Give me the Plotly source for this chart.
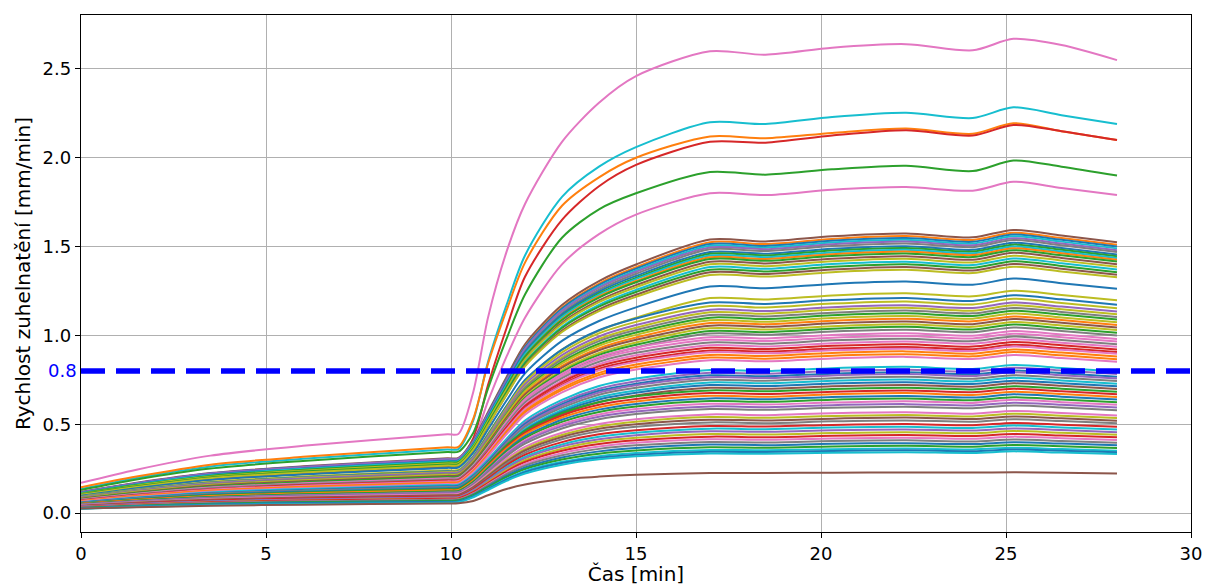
import plotly.graph_objects as go

# ---------------- data ----------------
time_min = [0, 1.5, 3.5, 6, 9.9, 10.2, 10.6, 11, 11.5, 12, 13, 14, 15, 17, 18.5, 20.3, 22.3, 24.1, 25.2, 26.5, 28]

curve_01 = [0.170, 0.244, 0.323, 0.378, 0.443, 0.445, 0.680, 1.100, 1.470, 1.740, 2.090, 2.310, 2.460, 2.600, 2.580, 2.620, 2.640, 2.605, 2.670, 2.635, 2.550]
curve_02 = [0.135, 0.197, 0.262, 0.305, 0.358, 0.360, 0.520, 0.850, 1.170, 1.450, 1.780, 1.950, 2.060, 2.200, 2.190, 2.230, 2.254, 2.224, 2.284, 2.240, 2.190]
curve_03 = [0.145, 0.205, 0.272, 0.316, 0.370, 0.372, 0.530, 0.840, 1.140, 1.410, 1.730, 1.890, 2.000, 2.120, 2.110, 2.140, 2.165, 2.135, 2.195, 2.150, 2.100]
curve_04 = [0.115, 0.164, 0.218, 0.255, 0.298, 0.300, 0.420, 0.720, 1.040, 1.330, 1.650, 1.840, 1.960, 2.090, 2.085, 2.125, 2.155, 2.125, 2.185, 2.150, 2.100]
curve_05 = [0.130, 0.189, 0.251, 0.293, 0.343, 0.345, 0.450, 0.700, 0.980, 1.230, 1.550, 1.710, 1.800, 1.920, 1.905, 1.935, 1.955, 1.925, 1.985, 1.950, 1.900]
curve_06 = [0.110, 0.156, 0.207, 0.242, 0.283, 0.285, 0.400, 0.630, 0.880, 1.100, 1.400, 1.570, 1.680, 1.800, 1.790, 1.820, 1.835, 1.815, 1.865, 1.830, 1.790]
curve_07 = [0.118, 0.170, 0.225, 0.263, 0.308, 0.310, 0.408, 0.568, 0.765, 0.950, 1.171, 1.306, 1.399, 1.540, 1.529, 1.558, 1.574, 1.552, 1.594, 1.563, 1.525]
curve_08 = [0.113, 0.163, 0.217, 0.253, 0.296, 0.298, 0.396, 0.556, 0.752, 0.936, 1.157, 1.292, 1.384, 1.525, 1.514, 1.543, 1.559, 1.537, 1.578, 1.548, 1.510]
curve_09 = [0.116, 0.167, 0.222, 0.259, 0.303, 0.305, 0.402, 0.559, 0.753, 0.934, 1.152, 1.285, 1.376, 1.515, 1.504, 1.533, 1.548, 1.527, 1.568, 1.538, 1.500]
curve_10 = [0.111, 0.160, 0.212, 0.248, 0.290, 0.292, 0.389, 0.547, 0.741, 0.923, 1.141, 1.275, 1.366, 1.505, 1.494, 1.523, 1.538, 1.517, 1.558, 1.528, 1.490]
curve_11 = [0.116, 0.167, 0.222, 0.259, 0.304, 0.306, 0.401, 0.556, 0.746, 0.924, 1.138, 1.269, 1.358, 1.495, 1.485, 1.513, 1.528, 1.507, 1.547, 1.517, 1.480]
curve_12 = [0.108, 0.156, 0.207, 0.242, 0.283, 0.285, 0.381, 0.537, 0.729, 0.909, 1.125, 1.257, 1.347, 1.485, 1.475, 1.503, 1.518, 1.497, 1.537, 1.507, 1.470]
curve_13 = [0.112, 0.162, 0.215, 0.251, 0.294, 0.296, 0.390, 0.543, 0.730, 0.906, 1.118, 1.247, 1.335, 1.470, 1.460, 1.488, 1.502, 1.482, 1.521, 1.492, 1.455]
curve_14 = [0.106, 0.153, 0.204, 0.237, 0.278, 0.280, 0.374, 0.528, 0.717, 0.894, 1.106, 1.236, 1.324, 1.460, 1.450, 1.478, 1.492, 1.472, 1.511, 1.482, 1.445]
curve_15 = [0.111, 0.160, 0.212, 0.248, 0.290, 0.292, 0.385, 0.535, 0.720, 0.894, 1.103, 1.230, 1.317, 1.450, 1.440, 1.467, 1.482, 1.462, 1.501, 1.472, 1.436]
curve_16 = [0.105, 0.150, 0.200, 0.233, 0.273, 0.275, 0.368, 0.520, 0.706, 0.881, 1.091, 1.219, 1.306, 1.440, 1.430, 1.457, 1.472, 1.452, 1.490, 1.462, 1.426]
curve_17 = [0.109, 0.157, 0.209, 0.243, 0.285, 0.287, 0.378, 0.527, 0.710, 0.881, 1.087, 1.213, 1.299, 1.430, 1.420, 1.447, 1.461, 1.441, 1.480, 1.451, 1.416]
curve_18 = [0.103, 0.148, 0.196, 0.229, 0.268, 0.270, 0.362, 0.510, 0.694, 0.865, 1.072, 1.197, 1.283, 1.415, 1.405, 1.432, 1.446, 1.426, 1.465, 1.436, 1.401]
curve_19 = [0.107, 0.154, 0.204, 0.238, 0.279, 0.281, 0.371, 0.516, 0.695, 0.863, 1.064, 1.187, 1.271, 1.400, 1.390, 1.417, 1.431, 1.411, 1.449, 1.421, 1.386]
curve_20 = [0.101, 0.146, 0.193, 0.226, 0.264, 0.266, 0.356, 0.501, 0.680, 0.848, 1.049, 1.172, 1.256, 1.385, 1.375, 1.402, 1.415, 1.396, 1.433, 1.406, 1.371]
curve_21 = [0.105, 0.150, 0.200, 0.233, 0.273, 0.275, 0.363, 0.505, 0.680, 0.844, 1.042, 1.162, 1.244, 1.370, 1.360, 1.386, 1.400, 1.381, 1.418, 1.391, 1.356]
curve_22 = [0.100, 0.143, 0.190, 0.222, 0.260, 0.262, 0.349, 0.492, 0.666, 0.830, 1.027, 1.147, 1.229, 1.355, 1.346, 1.371, 1.385, 1.366, 1.402, 1.375, 1.341]
curve_23 = [0.102, 0.147, 0.196, 0.228, 0.267, 0.269, 0.355, 0.494, 0.665, 0.826, 1.019, 1.137, 1.217, 1.340, 1.331, 1.356, 1.369, 1.351, 1.387, 1.360, 1.327]
curve_24 = [0.097, 0.140, 0.186, 0.217, 0.254, 0.256, 0.338, 0.470, 0.633, 0.786, 0.969, 1.081, 1.158, 1.275, 1.266, 1.290, 1.303, 1.285, 1.320, 1.294, 1.262]
curve_25 = [0.092, 0.132, 0.176, 0.205, 0.240, 0.242, 0.319, 0.445, 0.600, 0.745, 0.920, 1.026, 1.099, 1.210, 1.202, 1.225, 1.237, 1.220, 1.252, 1.228, 1.198]
curve_26 = [0.090, 0.130, 0.172, 0.201, 0.235, 0.237, 0.318, 0.441, 0.602, 0.749, 0.920, 1.029, 1.095, 1.185, 1.177, 1.199, 1.211, 1.194, 1.226, 1.203, 1.173]
curve_27 = [0.089, 0.127, 0.169, 0.198, 0.231, 0.233, 0.312, 0.433, 0.592, 0.736, 0.904, 1.011, 1.076, 1.165, 1.157, 1.179, 1.191, 1.174, 1.206, 1.182, 1.153]
curve_28 = [0.087, 0.125, 0.166, 0.194, 0.227, 0.229, 0.307, 0.426, 0.582, 0.724, 0.889, 0.994, 1.058, 1.145, 1.137, 1.159, 1.170, 1.154, 1.185, 1.162, 1.134]
curve_29 = [0.083, 0.119, 0.158, 0.185, 0.216, 0.218, 0.296, 0.414, 0.569, 0.710, 0.875, 0.980, 1.043, 1.130, 1.122, 1.144, 1.155, 1.139, 1.170, 1.147, 1.119]
curve_30 = [0.085, 0.122, 0.162, 0.189, 0.221, 0.223, 0.299, 0.415, 0.566, 0.705, 0.865, 0.968, 1.030, 1.115, 1.107, 1.128, 1.140, 1.124, 1.154, 1.132, 1.104]
curve_31 = [0.081, 0.116, 0.154, 0.180, 0.210, 0.212, 0.287, 0.403, 0.554, 0.692, 0.851, 0.953, 1.016, 1.100, 1.092, 1.113, 1.124, 1.109, 1.139, 1.117, 1.089]
curve_32 = [0.082, 0.119, 0.158, 0.184, 0.215, 0.217, 0.291, 0.404, 0.551, 0.686, 0.842, 0.942, 1.003, 1.085, 1.077, 1.098, 1.109, 1.094, 1.123, 1.101, 1.074]
curve_33 = [0.078, 0.113, 0.150, 0.175, 0.204, 0.206, 0.279, 0.392, 0.539, 0.673, 0.828, 0.927, 0.988, 1.070, 1.063, 1.083, 1.094, 1.079, 1.107, 1.086, 1.059]
curve_34 = [0.080, 0.115, 0.153, 0.179, 0.209, 0.211, 0.283, 0.392, 0.536, 0.667, 0.819, 0.916, 0.975, 1.055, 1.048, 1.068, 1.078, 1.063, 1.092, 1.071, 1.044]
curve_35 = [0.076, 0.109, 0.145, 0.170, 0.198, 0.200, 0.271, 0.381, 0.523, 0.654, 0.805, 0.901, 0.960, 1.040, 1.033, 1.052, 1.063, 1.048, 1.076, 1.056, 1.030]
curve_36 = [0.078, 0.112, 0.148, 0.173, 0.202, 0.204, 0.274, 0.381, 0.520, 0.647, 0.795, 0.890, 0.947, 1.025, 1.018, 1.037, 1.048, 1.033, 1.061, 1.040, 1.015]
curve_37 = [0.074, 0.106, 0.141, 0.165, 0.192, 0.194, 0.263, 0.369, 0.508, 0.635, 0.782, 0.875, 0.932, 1.010, 1.003, 1.022, 1.032, 1.018, 1.045, 1.025, 1.000]
curve_38 = [0.075, 0.108, 0.143, 0.167, 0.195, 0.197, 0.268, 0.371, 0.514, 0.641, 0.784, 0.879, 0.931, 0.990, 0.983, 1.002, 1.012, 0.998, 1.025, 1.005, 0.980]
curve_39 = [0.071, 0.102, 0.135, 0.158, 0.184, 0.186, 0.257, 0.360, 0.502, 0.628, 0.770, 0.865, 0.916, 0.975, 0.968, 0.987, 0.996, 0.983, 1.009, 0.990, 0.965]
curve_40 = [0.073, 0.104, 0.139, 0.162, 0.189, 0.191, 0.260, 0.360, 0.499, 0.622, 0.760, 0.852, 0.902, 0.960, 0.953, 0.972, 0.981, 0.968, 0.994, 0.974, 0.950]
curve_41 = [0.069, 0.099, 0.132, 0.153, 0.179, 0.181, 0.250, 0.349, 0.487, 0.609, 0.746, 0.838, 0.888, 0.945, 0.938, 0.956, 0.966, 0.953, 0.978, 0.959, 0.936]
curve_42 = [0.070, 0.101, 0.134, 0.157, 0.183, 0.185, 0.252, 0.349, 0.483, 0.602, 0.736, 0.826, 0.874, 0.930, 0.923, 0.941, 0.950, 0.937, 0.963, 0.944, 0.921]
curve_43 = [0.067, 0.096, 0.128, 0.149, 0.174, 0.176, 0.243, 0.339, 0.472, 0.590, 0.723, 0.812, 0.860, 0.915, 0.909, 0.926, 0.935, 0.922, 0.947, 0.929, 0.906]
curve_44 = [0.068, 0.098, 0.131, 0.153, 0.178, 0.180, 0.245, 0.340, 0.470, 0.586, 0.717, 0.804, 0.851, 0.905, 0.899, 0.916, 0.925, 0.912, 0.937, 0.919, 0.896]
curve_45 = [0.065, 0.093, 0.124, 0.144, 0.168, 0.170, 0.235, 0.328, 0.458, 0.573, 0.703, 0.789, 0.836, 0.890, 0.884, 0.901, 0.910, 0.897, 0.921, 0.903, 0.881]
curve_46 = [0.066, 0.095, 0.126, 0.148, 0.172, 0.174, 0.237, 0.328, 0.454, 0.567, 0.693, 0.777, 0.822, 0.875, 0.869, 0.886, 0.894, 0.882, 0.906, 0.888, 0.866]
curve_47 = [0.063, 0.090, 0.120, 0.140, 0.163, 0.165, 0.228, 0.318, 0.443, 0.554, 0.679, 0.763, 0.808, 0.860, 0.854, 0.870, 0.879, 0.867, 0.890, 0.873, 0.851]
curve_48 = [0.060, 0.087, 0.116, 0.135, 0.157, 0.159, 0.217, 0.301, 0.417, 0.521, 0.637, 0.715, 0.757, 0.805, 0.799, 0.815, 0.823, 0.811, 0.833, 0.817, 0.797]
curve_49 = [0.057, 0.082, 0.109, 0.127, 0.148, 0.150, 0.208, 0.291, 0.406, 0.508, 0.624, 0.700, 0.742, 0.790, 0.784, 0.799, 0.807, 0.796, 0.818, 0.802, 0.782]
curve_50 = [0.058, 0.084, 0.111, 0.130, 0.151, 0.153, 0.209, 0.290, 0.402, 0.501, 0.613, 0.688, 0.728, 0.775, 0.770, 0.784, 0.792, 0.781, 0.802, 0.787, 0.767]
curve_51 = [0.055, 0.080, 0.106, 0.124, 0.144, 0.146, 0.202, 0.282, 0.394, 0.493, 0.604, 0.678, 0.719, 0.765, 0.760, 0.774, 0.782, 0.771, 0.792, 0.776, 0.757]
curve_52 = [0.056, 0.081, 0.108, 0.126, 0.146, 0.148, 0.202, 0.280, 0.389, 0.485, 0.593, 0.666, 0.705, 0.750, 0.745, 0.759, 0.767, 0.756, 0.776, 0.761, 0.743]
curve_53 = [0.053, 0.077, 0.102, 0.119, 0.138, 0.140, 0.194, 0.271, 0.378, 0.473, 0.580, 0.652, 0.690, 0.735, 0.730, 0.744, 0.751, 0.741, 0.761, 0.746, 0.728]
curve_54 = [0.054, 0.078, 0.103, 0.120, 0.140, 0.142, 0.194, 0.269, 0.373, 0.466, 0.570, 0.639, 0.677, 0.720, 0.715, 0.729, 0.736, 0.726, 0.745, 0.731, 0.713]
curve_55 = [0.051, 0.073, 0.097, 0.114, 0.132, 0.134, 0.185, 0.260, 0.362, 0.454, 0.557, 0.625, 0.662, 0.705, 0.700, 0.713, 0.721, 0.711, 0.730, 0.716, 0.698]
curve_56 = [0.054, 0.076, 0.100, 0.116, 0.134, 0.136, 0.191, 0.275, 0.380, 0.463, 0.563, 0.624, 0.657, 0.690, 0.685, 0.698, 0.705, 0.696, 0.714, 0.700, 0.683]
curve_57 = [0.051, 0.072, 0.094, 0.109, 0.126, 0.128, 0.183, 0.265, 0.369, 0.451, 0.549, 0.609, 0.642, 0.675, 0.670, 0.683, 0.690, 0.680, 0.699, 0.685, 0.668]
curve_58 = [0.052, 0.073, 0.096, 0.111, 0.128, 0.130, 0.183, 0.263, 0.363, 0.443, 0.538, 0.596, 0.628, 0.660, 0.655, 0.668, 0.675, 0.665, 0.683, 0.670, 0.653]
curve_59 = [0.049, 0.068, 0.090, 0.104, 0.120, 0.122, 0.174, 0.253, 0.352, 0.431, 0.525, 0.582, 0.614, 0.645, 0.640, 0.653, 0.659, 0.650, 0.668, 0.655, 0.639]
curve_60 = [0.049, 0.069, 0.090, 0.105, 0.121, 0.123, 0.174, 0.250, 0.346, 0.422, 0.513, 0.569, 0.600, 0.630, 0.626, 0.638, 0.644, 0.635, 0.652, 0.639, 0.624]
curve_61 = [0.046, 0.065, 0.085, 0.099, 0.114, 0.116, 0.166, 0.241, 0.336, 0.410, 0.500, 0.555, 0.585, 0.615, 0.611, 0.622, 0.629, 0.620, 0.637, 0.624, 0.609]
curve_62 = [0.047, 0.066, 0.086, 0.100, 0.115, 0.117, 0.165, 0.238, 0.330, 0.402, 0.489, 0.542, 0.571, 0.600, 0.596, 0.607, 0.613, 0.605, 0.621, 0.609, 0.594]
curve_63 = [0.044, 0.062, 0.081, 0.094, 0.108, 0.110, 0.158, 0.229, 0.319, 0.390, 0.476, 0.528, 0.557, 0.585, 0.581, 0.592, 0.598, 0.590, 0.605, 0.594, 0.579]
curve_64 = [0.043, 0.060, 0.079, 0.092, 0.106, 0.108, 0.153, 0.220, 0.305, 0.372, 0.452, 0.501, 0.528, 0.555, 0.551, 0.562, 0.567, 0.559, 0.574, 0.563, 0.549]
curve_65 = [0.040, 0.057, 0.074, 0.086, 0.099, 0.101, 0.145, 0.211, 0.294, 0.360, 0.439, 0.487, 0.514, 0.540, 0.536, 0.546, 0.552, 0.544, 0.559, 0.548, 0.535]
curve_66 = [0.041, 0.057, 0.075, 0.087, 0.100, 0.102, 0.144, 0.208, 0.288, 0.352, 0.428, 0.474, 0.500, 0.525, 0.521, 0.531, 0.537, 0.529, 0.543, 0.533, 0.520]
curve_67 = [0.038, 0.053, 0.070, 0.081, 0.093, 0.095, 0.137, 0.199, 0.278, 0.340, 0.415, 0.460, 0.485, 0.510, 0.506, 0.516, 0.521, 0.514, 0.528, 0.518, 0.505]
curve_68 = [0.038, 0.053, 0.070, 0.081, 0.093, 0.095, 0.135, 0.194, 0.269, 0.328, 0.399, 0.443, 0.466, 0.490, 0.487, 0.496, 0.501, 0.494, 0.507, 0.497, 0.485]
curve_69 = [0.035, 0.049, 0.065, 0.075, 0.086, 0.088, 0.127, 0.185, 0.258, 0.316, 0.386, 0.429, 0.452, 0.475, 0.472, 0.481, 0.485, 0.479, 0.492, 0.482, 0.470]
curve_70 = [0.036, 0.050, 0.065, 0.076, 0.087, 0.089, 0.126, 0.182, 0.252, 0.308, 0.375, 0.415, 0.438, 0.460, 0.457, 0.466, 0.470, 0.464, 0.476, 0.467, 0.455]
curve_71 = [0.033, 0.046, 0.061, 0.071, 0.081, 0.083, 0.119, 0.174, 0.242, 0.297, 0.362, 0.402, 0.423, 0.445, 0.442, 0.450, 0.455, 0.449, 0.461, 0.452, 0.441]
curve_72 = [0.033, 0.046, 0.060, 0.070, 0.080, 0.082, 0.117, 0.169, 0.235, 0.287, 0.350, 0.388, 0.409, 0.430, 0.427, 0.435, 0.439, 0.433, 0.445, 0.436, 0.426]
curve_73 = [0.030, 0.043, 0.056, 0.065, 0.074, 0.076, 0.110, 0.161, 0.225, 0.276, 0.337, 0.374, 0.395, 0.415, 0.412, 0.420, 0.424, 0.418, 0.430, 0.421, 0.411]
curve_74 = [0.030, 0.043, 0.056, 0.065, 0.074, 0.076, 0.108, 0.157, 0.219, 0.267, 0.325, 0.361, 0.381, 0.400, 0.397, 0.405, 0.409, 0.403, 0.414, 0.406, 0.396]
curve_75 = [0.028, 0.039, 0.051, 0.060, 0.068, 0.070, 0.102, 0.149, 0.209, 0.256, 0.313, 0.347, 0.366, 0.385, 0.382, 0.390, 0.393, 0.388, 0.398, 0.391, 0.381]
curve_76 = [0.028, 0.039, 0.051, 0.060, 0.068, 0.070, 0.100, 0.145, 0.202, 0.247, 0.301, 0.334, 0.352, 0.370, 0.367, 0.374, 0.378, 0.373, 0.383, 0.376, 0.366]
curve_77 = [0.026, 0.036, 0.047, 0.055, 0.062, 0.064, 0.093, 0.137, 0.192, 0.236, 0.288, 0.320, 0.338, 0.355, 0.353, 0.359, 0.363, 0.358, 0.367, 0.360, 0.351]
curve_78 = [0.026, 0.036, 0.048, 0.056, 0.063, 0.065, 0.093, 0.135, 0.188, 0.230, 0.281, 0.311, 0.328, 0.345, 0.343, 0.349, 0.353, 0.348, 0.357, 0.350, 0.342]
curve_79 = [0.024, 0.034, 0.044, 0.051, 0.058, 0.060, 0.088, 0.129, 0.181, 0.222, 0.272, 0.302, 0.319, 0.335, 0.333, 0.339, 0.342, 0.338, 0.347, 0.340, 0.332]
curve_80 = [0.025, 0.032, 0.041, 0.047, 0.054, 0.055, 0.068, 0.100, 0.135, 0.160, 0.190, 0.205, 0.215, 0.225, 0.225, 0.227, 0.228, 0.228, 0.229, 0.227, 0.222]

threshold_value = 0.8
threshold_label = "0.8"
x_tick_values = [0, 5, 10, 15, 20, 25, 30]
y_tick_values = [0.0, 0.5, 1.0, 1.5, 2.0, 2.5]
x_title = "Čas [min]"
y_title = "Rychlost zuhelnatění [mm/min]"

curves = [
    curve_01, curve_02, curve_03, curve_04, curve_05, curve_06, curve_07, curve_08, curve_09, curve_10,
    curve_11, curve_12, curve_13, curve_14, curve_15, curve_16, curve_17, curve_18, curve_19, curve_20,
    curve_21, curve_22, curve_23, curve_24, curve_25, curve_26, curve_27, curve_28, curve_29, curve_30,
    curve_31, curve_32, curve_33, curve_34, curve_35, curve_36, curve_37, curve_38, curve_39, curve_40,
    curve_41, curve_42, curve_43, curve_44, curve_45, curve_46, curve_47, curve_48, curve_49, curve_50,
    curve_51, curve_52, curve_53, curve_54, curve_55, curve_56, curve_57, curve_58, curve_59, curve_60,
    curve_61, curve_62, curve_63, curve_64, curve_65, curve_66, curve_67, curve_68, curve_69, curve_70,
    curve_71, curve_72, curve_73, curve_74, curve_75, curve_76, curve_77, curve_78, curve_79, curve_80,
]

# ---------------- styles ----------------
TAB10 = {
    "b": "#1f77b4", "o": "#ff7f0e", "g": "#2ca02c", "r": "#d62728", "p": "#9467bd",
    "n": "#8c564b", "k": "#e377c2", "y": "#7f7f7f", "l": "#bcbd22", "c": "#17becf",
}
color_codes = ("kcorgknobc" "pybgcognlc" "gnlblblply" "glonlgykky"
               "krrkookcpb" "pycbngrobg" "kpyklnyrcp" "lrkybgcbcn")
FONT = "DejaVu Sans, Verdana, sans-serif"

fig = go.Figure()
for i, vals in enumerate(curves):
    fig.add_trace(go.Scatter(
        x=time_min, y=vals, mode="lines",
        line=dict(color=TAB10[color_codes[i]], width=2, shape="spline", smoothing=0.8),
        showlegend=False, hoverinfo="skip",
    ))

fig.add_shape(
    type="line", xref="paper", x0=0, x1=1, yref="y", y0=threshold_value, y1=threshold_value,
    line=dict(color="#0000ff", width=5.5, dash="24px,11px"), layer="above",
)
fig.add_annotation(
    x=0, y=threshold_value, xref="x", yref="y", text=threshold_label, showarrow=False,
    xanchor="right", yanchor="middle", xshift=-2,
    font=dict(color="#0000ff", size=18, family=FONT),
)

fig.update_layout(
    width=1206, height=586,
    margin=dict(l=81, r=15, t=15, b=54, autoexpand=False),
    paper_bgcolor="white", plot_bgcolor="white",
    font=dict(family=FONT, size=18, color="black"),
    showlegend=False,
)
fig.update_xaxes(
    range=[0, 30], tickvals=x_tick_values, ticks="outside", ticklen=5, tickwidth=1, tickcolor="black",
    showline=True, linecolor="black", linewidth=1.3, mirror=True, automargin=False,
    showgrid=True, gridcolor="#b0b0b0", gridwidth=1, zeroline=False,
    title=dict(text=x_title, font=dict(size=20, family=FONT, color="black"), standoff=9),
)
fig.update_yaxes(
    range=[-0.107, 2.804], tickvals=y_tick_values, tickformat=".1f",
    ticks="outside", ticklen=5, tickwidth=1, tickcolor="black",
    showline=True, linecolor="black", linewidth=1.3, mirror=True, automargin=False,
    showgrid=True, gridcolor="#b0b0b0", gridwidth=1, zeroline=False,
    title=dict(text=y_title, font=dict(size=20, family=FONT, color="black"), standoff=6),
)

fig.write_html("out.html")
